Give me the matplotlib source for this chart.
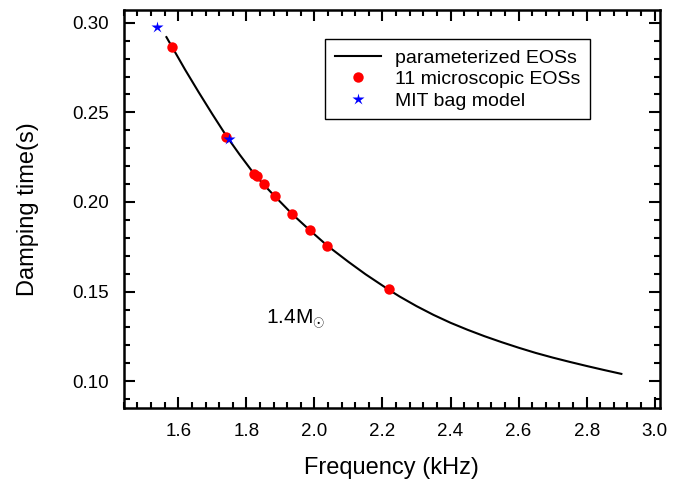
import matplotlib
matplotlib.use("Agg")
import matplotlib.pyplot as plt
from matplotlib.ticker import MultipleLocator, FormatStrFormatter

# curve (parameterized EOSs)
curve_f = [1.565, 1.582, 1.620, 1.660, 1.700, 1.741, 1.780, 1.8235, 1.852,
           1.883, 1.935, 1.986, 2.038, 2.100, 2.150, 2.218, 2.250, 2.300,
           2.350, 2.400, 2.450, 2.500, 2.550, 2.600, 2.650, 2.700, 2.750,
           2.800, 2.850, 2.902]
curve_tau = [0.2920, 0.2864, 0.2738, 0.2612, 0.2490, 0.2369, 0.2265, 0.2155, 0.2095,
             0.2033, 0.1932, 0.1843, 0.1756, 0.1666, 0.1597, 0.1511, 0.1473, 0.1419,
             0.1370, 0.1326, 0.1287, 0.1251, 0.1218, 0.1187, 0.1158, 0.1132, 0.1108,
             0.1085, 0.1063, 0.1041]

# 11 microscopic EOSs
micro_f = [1.582, 1.741, 1.8235, 1.831, 1.852, 1.883, 1.935, 1.986, 2.038, 2.218]
micro_tau = [0.2867, 0.2365, 0.2156, 0.2143, 0.2100, 0.2033, 0.1932, 0.1843, 0.1756, 0.1515]

# MIT bag model
mit_f = [1.538, 1.750]
mit_tau = [0.2978, 0.2350]

plt.rcParams['font.family'] = ['Liberation Sans', 'DejaVu Sans']
plt.rcParams['mathtext.fontset'] = 'custom'
plt.rcParams['mathtext.rm'] = 'Liberation Sans'

fig = plt.figure(figsize=(6.96, 4.87), dpi=100)
ax = fig.add_axes([0.178, 0.162, 0.770, 0.817])

ax.plot(curve_f, curve_tau, color='black', lw=1.5, label='parameterized EOSs')
ax.plot(micro_f, micro_tau, 'o', color='red', ms=7.5, mec='none', label='11 microscopic EOSs')
ax.plot(mit_f, mit_tau, '*', color='blue', ms=9, mec='none', label='MIT bag model')

ax.set_xlim(1.44, 3.015)
ax.set_ylim(0.085, 0.307)
ax.xaxis.set_major_locator(MultipleLocator(0.2))
ax.xaxis.set_minor_locator(MultipleLocator(0.04))
ax.yaxis.set_major_locator(MultipleLocator(0.05))
ax.yaxis.set_minor_locator(MultipleLocator(0.01))
ax.xaxis.set_major_formatter(FormatStrFormatter('%.1f'))
ax.yaxis.set_major_formatter(FormatStrFormatter('%.2f'))

ax.tick_params(which='both', direction='in', top=True, right=True, width=1.5,
               labelsize=13.5, pad=11)
ax.tick_params(which='major', length=8)
ax.tick_params(which='minor', length=4)
for s in ax.spines.values():
    s.set_linewidth(1.8)

ax.set_xlabel('Frequency (kHz)', fontsize=17, labelpad=12)
ax.set_ylabel('Damping time(s)', fontsize=17, labelpad=24)

ax.text(1.859, 0.1322, r'1.4M$_{\odot}$', fontsize=15)

leg = ax.legend(loc='upper left', bbox_to_anchor=(0.375, 0.927), fontsize=14,
                fancybox=False, edgecolor='black', framealpha=1, borderpad=0.5,
                handlelength=2.4, handletextpad=0.7, labelspacing=0.2,
                borderaxespad=0)
leg.get_frame().set_linewidth(1.0)

fig.savefig('out.png', dpi=100)
